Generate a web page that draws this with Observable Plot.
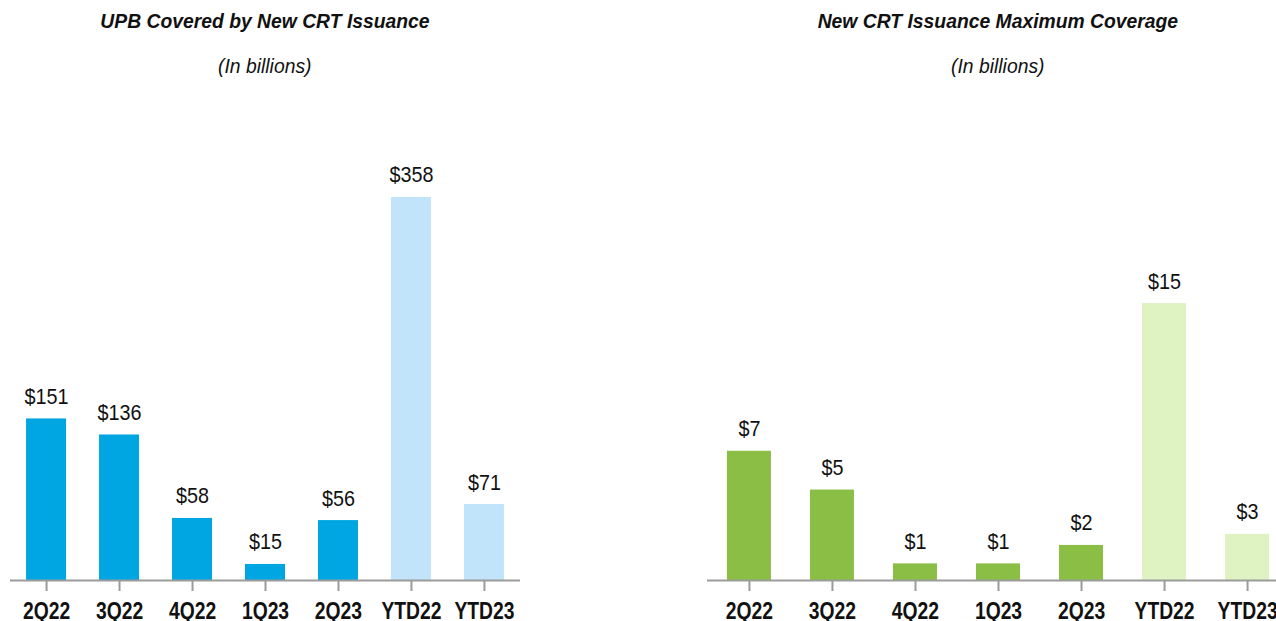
<!DOCTYPE html>
<html>
<head>
<meta charset="utf-8">
<script src="https://cdn.jsdelivr.net/npm/d3@7"></script>
<script src="https://cdn.jsdelivr.net/npm/@observablehq/plot@0.6"></script>
<style>
  html, body { margin: 0; padding: 0; background: #fff; width: 1276px; height: 621px; overflow: hidden; }
  #wrap { position: relative; width: 1276px; height: 621px; }
  .panel { position: absolute; top: 0; }
  .head { height: 90px; text-align: center; font-family: "Liberation Sans", Arial, sans-serif; color: #111; position: relative; }
  .head div { position: absolute; left: 0; right: 0; }
  .head span { display: inline-block; transform: scaleX(0.92); transform-origin: 50% 50%; white-space: nowrap; }
  .title { font-weight: bold; font-style: italic; font-size: 21px; top: 9px; }
  .sub { font-style: italic; font-size: 21px; top: 54px; }
  svg { display: block; }
</style>
</head>
<body>
<div id="wrap"></div>
<script>
const categories = ["2Q22", "3Q22", "4Q22", "1Q23", "2Q23", "YTD22", "YTD23"];
const periodType = ["Quarter", "Quarter", "Quarter", "Quarter", "Quarter", "YTD", "YTD"];
const upbValues = [151, 136, 58, 15, 56, 358, 71];
const upbLabels = ["$151", "$136", "$58", "$15", "$56", "$358", "$71"];
const coverageValues = [7.0, 4.9, 0.9, 0.9, 1.9, 15, 2.5];
const coverageLabels = ["$7", "$5", "$1", "$1", "$2", "$15", "$3"];

const leftTitle = "UPB Covered by New CRT Issuance";
const rightTitle = "New CRT Issuance Maximum Coverage";
const subTitle = "(In billions)";

const FONT = '"Liberation Sans", Arial, sans-serif';

function condense(nodes, k) {
  nodes.forEach(el => {
    const tr = el.getAttribute("transform") || "";
    const x = el.getAttribute("x");
    let extra = "";
    if (x !== null) { extra = ` translate(${x},0)`; el.setAttribute("x", 0); }
    el.setAttribute("transform", `${tr}${extra} scale(${k},1)`);
  });
}

function makePanel({left, width, mLeft, mRight, values, labels, yMax, pi, po, colors, title}) {
  const data = categories.map((c, i) => ({cat: c, type: periodType[i], value: values[i], label: labels[i]}));
  const panel = document.createElement("div");
  panel.className = "panel";
  panel.style.left = left + "px";
  panel.style.width = width + "px";
  const head = document.createElement("div");
  head.className = "head";
  head.style.marginLeft = mLeft + "px";
  head.style.marginRight = mRight + "px";
  const t = document.createElement("div"); t.className = "title";
  const ts = document.createElement("span"); ts.textContent = title; t.appendChild(ts);
  const s = document.createElement("div"); s.className = "sub";
  const ss = document.createElement("span"); ss.textContent = subTitle; s.appendChild(ss);
  head.appendChild(t); head.appendChild(s);
  panel.appendChild(head);

  const chart = Plot.plot({
    width: width,
    height: 531,
    marginTop: 10,
    marginBottom: 41,
    marginLeft: mLeft,
    marginRight: mRight,
    style: {fontFamily: FONT, background: "transparent", overflow: "visible"},
    x: {domain: categories, paddingInner: pi, paddingOuter: po, round: false, label: null},
    y: {domain: [0, yMax], axis: null},
    color: {domain: ["Quarter", "YTD"], range: colors},
    marks: [
      Plot.barY(data, {x: "cat", y: "value", fill: "type"}),
      Plot.ruleY([0], {stroke: "#9b9b9b", strokeWidth: 2}),
      Plot.axisX({
        tickSize: 11, tickPadding: 11, stroke: "#9b9b9b", strokeWidth: 2,
        fontSize: 23, fontWeight: "bold", fill: "#111", label: null
      }),
      Plot.text(data, {x: "cat", y: "value", text: "label", dy: -22, lineAnchor: "middle",
        fontSize: 22, fill: "#111"})
    ]
  });
  condense(chart.querySelectorAll('[aria-label="x-axis tick label"] text'), 0.84);
  condense(chart.querySelectorAll('[aria-label="text"] text'), 0.9);
  panel.appendChild(chart);
  document.getElementById("wrap").appendChild(panel);
}

makePanel({left: 0, width: 530, mLeft: 10, mRight: 10, values: upbValues, labels: upbLabels,
  yMax: 448.6, pi: 0.452, po: 0.22, colors: ["#00A6E2", "#C2E4FB"], title: leftTitle});
makePanel({left: 700, width: 589, mLeft: 7, mRight: 0, values: coverageValues, labels: coverageLabels,
  yMax: 26.0, pi: 0.47, po: 0.24, colors: ["#8ABE45", "#DEF2C2"], title: rightTitle});
</script>
</body>
</html>
